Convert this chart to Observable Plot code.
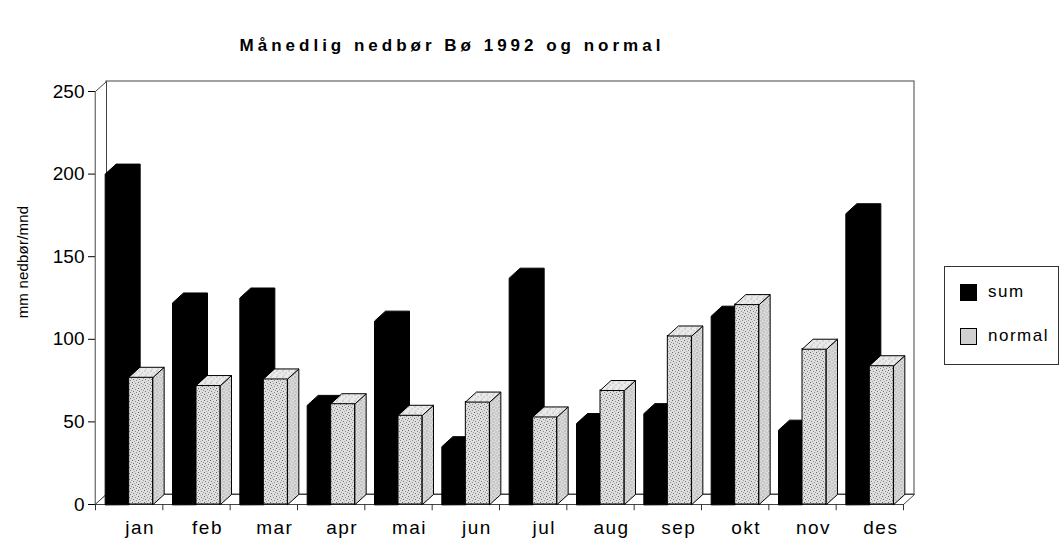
<!DOCTYPE html>
<html>
<head>
<meta charset="utf-8">
<script src="https://cdn.jsdelivr.net/npm/d3@7"></script>
<script src="https://cdn.jsdelivr.net/npm/@observablehq/plot@0.6"></script>
<style>
  html, body { margin: 0; padding: 0; background: #fff; }
  #wrap { position: relative; width: 1063px; height: 544px; overflow: hidden; font-family: "Liberation Sans", Arial, sans-serif; color: #000; }
  #title { position: relative; height: 70px; }
  #title span { position: absolute; left: 0; width: 904px; top: 36px; text-align: center; font-weight: bold; font-size: 17px; letter-spacing: 4px; }
  #ylabel { position: absolute; left: 22px; top: 262px; transform: translate(-50%, -50%) rotate(-90deg); white-space: nowrap; font-size: 15px; letter-spacing: 0.2px; }
  #legend { position: absolute; left: 944px; top: 266px; width: 115px; height: 99px; border: 1px solid #333; box-sizing: border-box; }
  .lg { position: absolute; left: 15px; height: 18px; display: flex; align-items: center; font-size: 17px; letter-spacing: 1.5px; }
  .sw { width: 17px; height: 17px; margin-right: 11px; box-sizing: border-box; border: 1px solid #000; }
</style>
</head>
<body>
<div id="wrap">
  <div id="title"><span>Månedlig nedbør Bø 1992 og normal</span></div>
  <div id="chart"></div>
  <div id="ylabel">mm nedbør/mnd</div>
  <div id="legend"></div>
</div>
<script>
// ---- data ----
const months = ["jan", "feb", "mar", "apr", "mai", "jun", "jul", "aug", "sep", "okt", "nov", "des"];
const sumValues = [200, 122, 125, 60, 111, 35, 137, 49, 55, 114, 45, 176];
const normalValues = [77, 72, 76, 61, 54, 62, 53, 69, 102, 121, 94, 84];
const seriesNames = ["sum", "normal"];
const yTicks = [0, 50, 100, 150, 200, 250];

// ---- layout ----
const W = 1063, H = 474;
const mL = 95, mR = 160, mT = 21, mB = 40;
const catPx = (W - mL - mR) / months.length;
const unitPx = (H - mT - mB) / 250;
const DX = 11 / catPx;     // depth in category units
const DY = 10 / unitPx;    // depth in value units
const GAP = 0.1436, BW = 0.3564;

const seriesValues = [sumValues, normalValues];
const bars = seriesNames.map((s, si) => months.map((m, i) => ({
  s, i, v: seriesValues[si][i],
  x1: i + GAP + si * BW,
  x2: i + GAP + (si + 1) * BW
})));

const poly = (id, pts) => pts.map(([x, y]) => ({id, x, y}));
// dark bars: one outline (front + top + side) so no seams
const sumShapes = bars[0].flatMap(b => poly("s" + b.i, [[b.x1, 0], [b.x1, b.v], [b.x1 + DX, b.v + DY], [b.x2 + DX, b.v + DY], [b.x2 + DX, DY], [b.x2, 0]]));
// light bars: separate faces
const normTops = bars[1].flatMap(b => poly("t" + b.i, [[b.x1, b.v], [b.x2, b.v], [b.x2 + DX, b.v + DY], [b.x1 + DX, b.v + DY]]));
const normSides = bars[1].flatMap(b => poly("d" + b.i, [[b.x2, 0], [b.x2 + DX, DY], [b.x2 + DX, b.v + DY], [b.x2, b.v]]));

const n = months.length;
const leftWall = poly("lw", [[0, 0], [DX, DY], [DX, 250 + DY], [0, 250]]);
const floor = poly("fl", [[0, 0], [n, 0], [n + DX, DY], [DX, DY]]);
const backWall = [{x1: DX, x2: n + DX, y1: DY, y2: 250 + DY}];

const chart = Plot.plot({
  width: W, height: H,
  marginLeft: mL, marginRight: mR, marginTop: mT, marginBottom: mB,
  x: {domain: [0, n], axis: null},
  y: {domain: [0, 250], ticks: yTicks, tickSize: 7, tickPadding: 4, label: null, tickFormat: d => String(d)},
  style: {fontSize: "19px", fontFamily: "Liberation Sans, Arial, sans-serif", background: "white", color: "#000", overflow: "visible"},
  marks: [
    Plot.rect(backWall, {x1: "x1", x2: "x2", y1: "y1", y2: "y2", fill: "white", stroke: "#444", strokeWidth: 1}),
    Plot.line(leftWall, {x: "x", y: "y", z: "id", curve: "linear-closed", fill: "white", stroke: "#444", strokeWidth: 1}),
    Plot.line(floor, {x: "x", y: "y", z: "id", curve: "linear-closed", fill: "white", stroke: "#444", strokeWidth: 1}),
    Plot.line(sumShapes, {x: "x", y: "y", z: "id", curve: "linear-closed", fill: "#000", stroke: "#000", strokeWidth: 1}),
    Plot.rect(bars[1], {x1: "x1", x2: "x2", y1: () => 0, y2: "v", fill: "url(#stip)", stroke: "#000", strokeWidth: 1}),
    Plot.line(normSides, {x: "x", y: "y", z: "id", curve: "linear-closed", fill: "url(#stip)", stroke: "#000", strokeWidth: 1}),
    Plot.line(normTops, {x: "x", y: "y", z: "id", curve: "linear-closed", fill: "url(#stipTop)", stroke: "#000", strokeWidth: 1}),
    Plot.ruleX(d3.range(n + 1), {x: d => d, y1: () => 0, y2: () => -3.8, stroke: "#333", strokeWidth: 1}),
    Plot.text(months, {x: (d, i) => i + 0.5, y: () => 0, text: d => d, dx: 11, dy: 23, fontSize: 19, fill: "#000"})
  ]
});

// stipple patterns for the light bars
chart.insertAdjacentHTML("afterbegin",
  `<defs>
    <pattern id="stip" width="6" height="6" patternUnits="userSpaceOnUse">
      <rect width="6" height="6" fill="#dedede"/>
      <rect x="0" y="0" width="1" height="1" fill="#666"/>
      <rect x="3" y="1" width="1" height="1" fill="#888"/>
      <rect x="5" y="2" width="1" height="1" fill="#999"/>
      <rect x="1" y="3" width="1" height="1" fill="#777"/>
      <rect x="4" y="4" width="1" height="1" fill="#8a8a8a"/>
      <rect x="2" y="5" width="1" height="1" fill="#aaa"/>
    </pattern>
    <pattern id="stipTop" width="6" height="6" patternUnits="userSpaceOnUse">
      <rect width="6" height="6" fill="#eaeaea"/>
      <rect x="0" y="0" width="1" height="1" fill="#888"/>
      <rect x="3" y="2" width="1" height="1" fill="#999"/>
      <rect x="1" y="4" width="1" height="1" fill="#aaa"/>
    </pattern>
  </defs>`);

d3.select(chart).selectAll('g[aria-label="text"] text').style("letter-spacing", "1.5px");

document.getElementById("chart").appendChild(chart);

// legend
const legend = document.getElementById("legend");
const legendFills = ["#000", "#d0d0d0"];
seriesNames.forEach((s, i) => {
  const row = document.createElement("div");
  row.className = "lg";
  row.style.top = (16 + i * 44) + "px";
  const sw = document.createElement("div");
  sw.className = "sw";
  sw.style.background = legendFills[i];
  row.appendChild(sw);
  row.appendChild(document.createTextNode(s));
  legend.appendChild(row);
});
</script>
</body>
</html>
